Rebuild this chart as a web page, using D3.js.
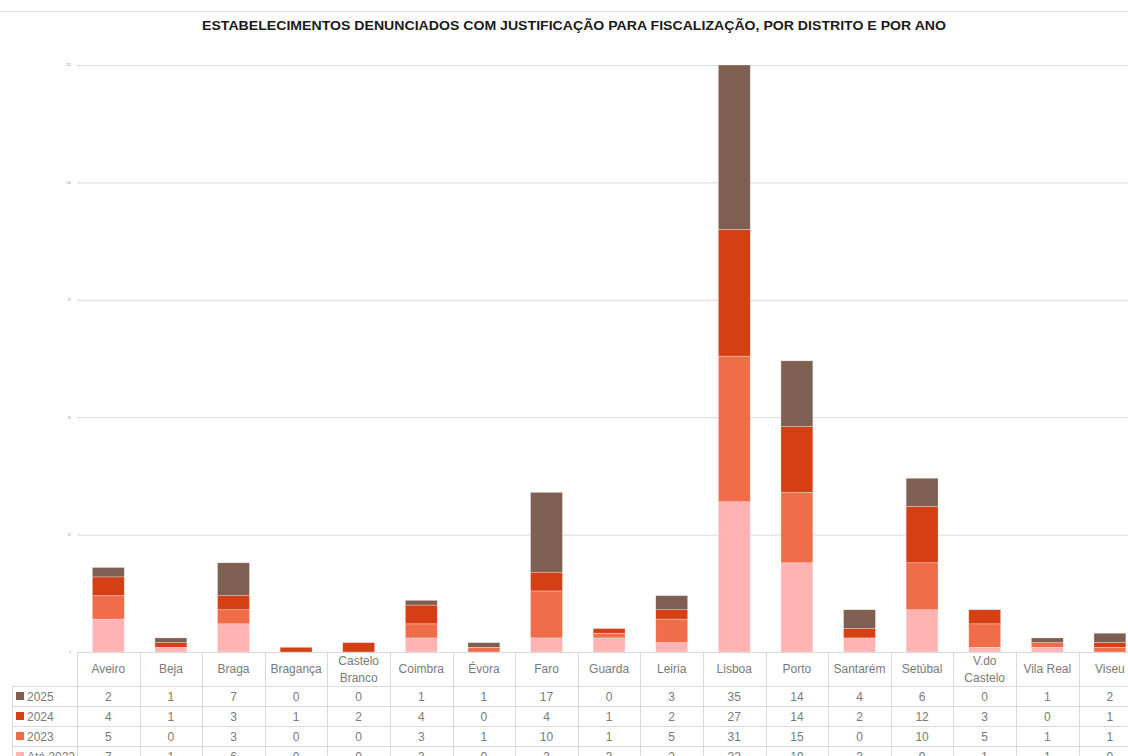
<!DOCTYPE html>
<html>
<head>
  <meta charset="UTF-8" />
  <title>Estabelecimentos denunciados</title>
  <script src="https://d3js.org/d3.v7.min.js"></script>
  <style>
    body { margin: 0; background: #fff; }
    svg { display: block; font-family: "Liberation Sans", Arial, sans-serif; }
  </style>
</head>
<body>
  <div id="chart"></div>
  <script>
    // data
    const districts = ["Aveiro", "Beja", "Braga", "Bragança", "Castelo Branco", "Coimbra", "Évora", "Faro",
      "Guarda", "Leiria", "Lisboa", "Porto", "Santarém", "Setúbal", "V.do Castelo", "Vila Real", "Viseu"];
    const years = ["Até 2022", "2023", "2024", "2025"];
    const v2025 = [2, 1, 7, 0, 0, 1, 1, 17, 0, 3, 35, 14, 4, 6, 0, 1, 2];
    const v2024 = [4, 1, 3, 1, 2, 4, 0, 4, 1, 2, 27, 14, 2, 12, 3, 0, 1];
    const v2023 = [5, 0, 3, 0, 0, 3, 1, 10, 1, 5, 31, 15, 0, 10, 5, 1, 1];
    const vAte2022 = [7, 1, 6, 0, 0, 3, 0, 3, 3, 2, 32, 19, 3, 9, 1, 1, 0];
    const yTicks = [0, 25, 50, 75, 100, 125];

    const colors = { "Até 2022": "#ffb3b3", "2023": "#ef6d48", "2024": "#d63f14", "2025": "#7f5f51" };
    const series = { "Até 2022": vAte2022, "2023": v2023, "2024": v2024, "2025": v2025 };

    const rows = districts.map((d, i) => {
      const r = { district: d };
      years.forEach(y => r[y] = series[y][i]);
      return r;
    });

    const width = 1128, height = 756;
    const plotLeft = 77, base = 652, plotTop = 65;
    const colW = 62.6;

    const svg = d3.select("#chart").append("svg")
      .attr("width", width)
      .attr("height", height);

    // thin frame line at the top
    svg.append("line")
      .attr("x1", 0).attr("x2", width)
      .attr("y1", 11.5).attr("y2", 11.5)
      .attr("stroke", "#e3e3e3");

    svg.append("text")
      .attr("x", 574).attr("y", 30)
      .attr("text-anchor", "middle")
      .attr("font-size", 13)
      .attr("font-weight", "bold")
      .attr("fill", "#1a1a1a")
      .attr("textLength", 744)
      .attr("lengthAdjust", "spacingAndGlyphs")
      .text("ESTABELECIMENTOS DENUNCIADOS COM JUSTIFICAÇÃO PARA FISCALIZAÇÃO, POR DISTRITO E POR ANO");

    const x = d3.scaleBand()
      .domain(districts)
      .range([plotLeft, plotLeft + colW * districts.length])
      .paddingInner(0.49)
      .paddingOuter(0.245);

    const y = d3.scaleLinear()
      .domain([0, 125])
      .range([base, plotTop]);

    // gridlines + tiny tick labels
    const yAxis = d3.axisLeft(y).tickValues(yTicks).tickSize(-(width - plotLeft)).tickPadding(6);
    const gy = svg.append("g")
      .attr("transform", "translate(" + plotLeft + ",0)")
      .call(yAxis);
    gy.select(".domain").remove();
    gy.selectAll(".tick line").attr("stroke", "#d9d9d9");
    gy.selectAll(".tick text")
      .attr("font-size", 3)
      .attr("fill", "#8c8c8c");

    // stacked bars
    const stacked = d3.stack().keys(years)(rows);
    svg.append("g")
      .selectAll("g")
      .data(stacked)
      .enter()
      .append("g")
      .attr("fill", d => colors[d.key])
      .selectAll("rect")
      .data(d => d)
      .enter()
      .append("rect")
      .attr("x", d => x(d.data.district))
      .attr("y", d => y(d[1]))
      .attr("width", x.bandwidth())
      .attr("height", d => y(d[0]) - y(d[1]))
      .attr("stroke", "#fff")
      .attr("stroke-opacity", 0.5)
      .attr("stroke-width", 0.6);

    // data table
    const tableRows = ["2025", "2024", "2023", "Até 2022"];
    const headerBottom = 686, rowH = 20;
    const tableRight = plotLeft + colW * districts.length;
    const grid = svg.append("g").attr("stroke", "#d9d9d9").attr("stroke-width", 1);

    grid.append("line")
      .attr("x1", plotLeft).attr("x2", tableRight)
      .attr("y1", base + 0.5).attr("y2", base + 0.5);
    d3.range(tableRows.length + 1).forEach(i => {
      grid.append("line")
        .attr("x1", 12).attr("x2", tableRight)
        .attr("y1", headerBottom + i * rowH + 0.5).attr("y2", headerBottom + i * rowH + 0.5);
    });
    grid.append("line")
      .attr("x1", 12.5).attr("x2", 12.5)
      .attr("y1", headerBottom).attr("y2", height);
    d3.range(districts.length + 1).forEach(i => {
      const xx = Math.round(plotLeft + i * colW) + 0.5;
      grid.append("line")
        .attr("x1", xx).attr("x2", xx)
        .attr("y1", base).attr("y2", height);
    });

    const txt = svg.append("g")
      .attr("fill", "#7a7a7a")
      .attr("font-size", 12)
      .attr("text-anchor", "middle");

    // header with category names
    districts.forEach(d => {
      const cx = x(d) + x.bandwidth() / 2;
      const words = d.split(" ");
      if (d === "Vila Real" || words.length === 1) {
        txt.append("text").attr("x", cx).attr("y", 673).text(d);
      } else {
        txt.append("text").attr("x", cx).attr("y", 665).text(words[0]);
        txt.append("text").attr("x", cx).attr("y", 682).text(words.slice(1).join(" "));
      }
    });

    // year rows
    tableRows.forEach((yr, r) => {
      const cy = headerBottom + r * rowH + 15;
      svg.append("rect")
        .attr("x", 16).attr("y", cy - 9)
        .attr("width", 8).attr("height", 8)
        .attr("fill", colors[yr]);
      svg.append("text")
        .attr("x", 27).attr("y", cy)
        .attr("font-size", 12)
        .attr("fill", "#7a7a7a")
        .text(yr);
      series[yr].forEach((v, i) => {
        txt.append("text")
          .attr("x", x(districts[i]) + x.bandwidth() / 2)
          .attr("y", cy)
          .text(v);
      });
    });
  </script>
</body>
</html>
